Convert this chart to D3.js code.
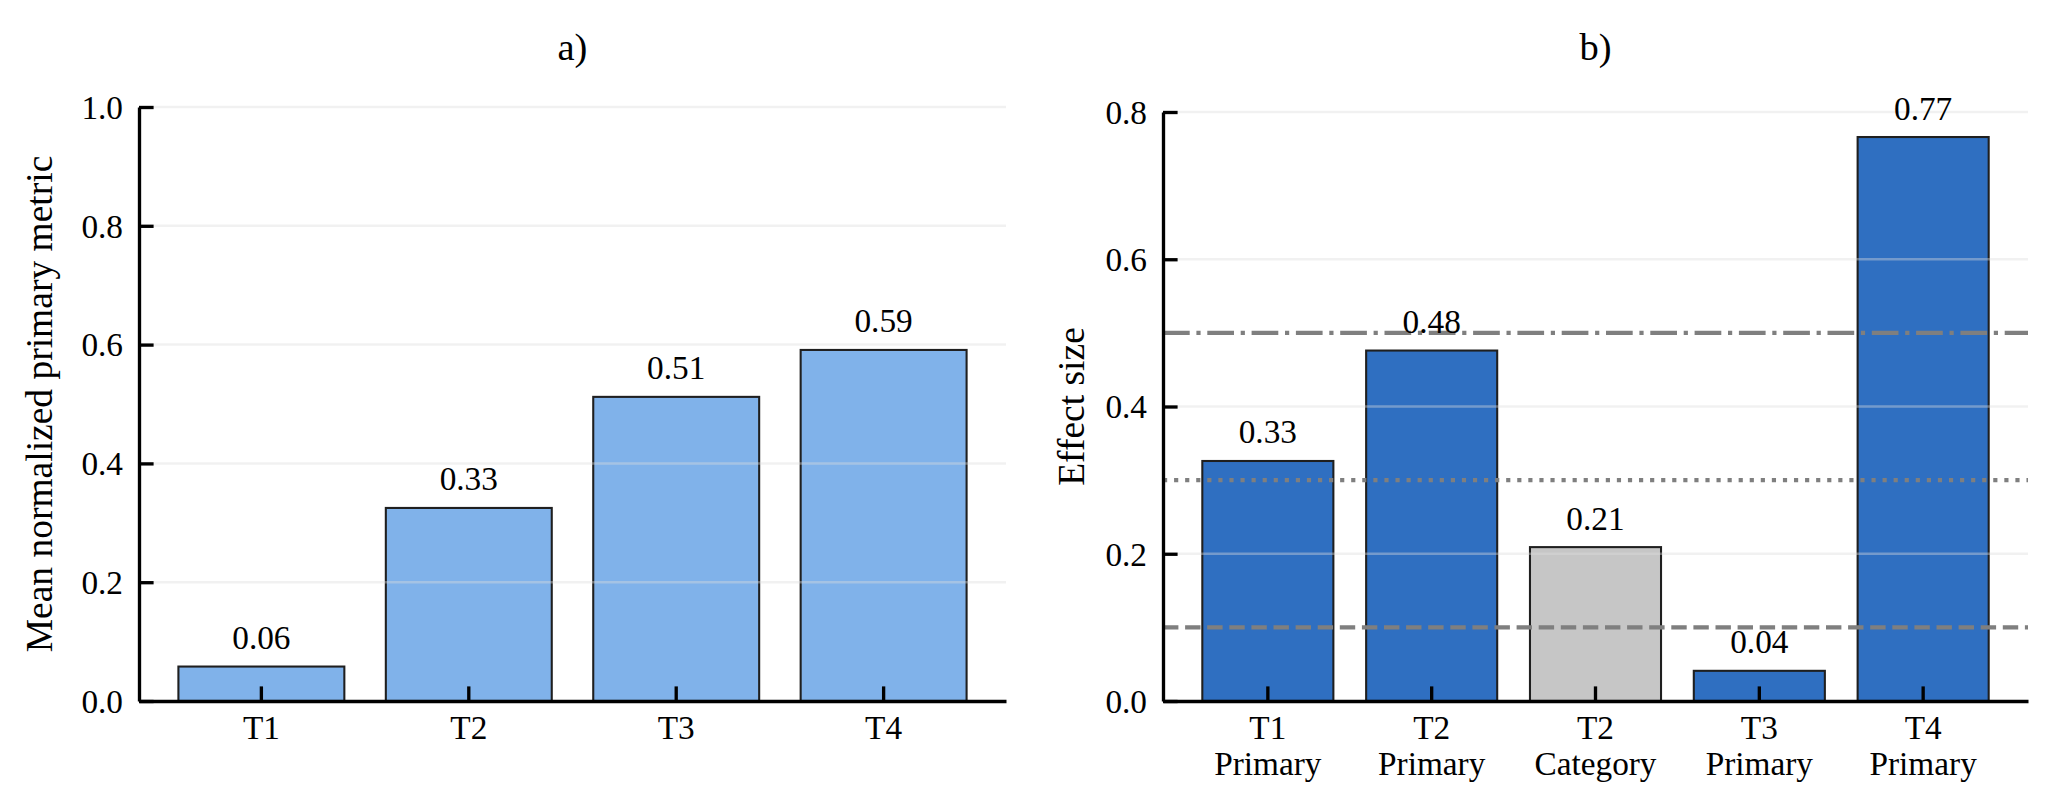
<!doctype html>
<html>
<head>
  <meta charset='utf-8'>
  <style>
    body { margin: 0; background: #fff; }
    svg text { fill: #000; }
    .axis path, .axis line { stroke: #000; stroke-width: 3.33; }
    .axis text { font-size: 33.3px; }
    .grid line { stroke: #dcdcdc; stroke-width: 2.5; stroke-opacity: 0.4; }
    .bar { stroke: #1f1f1f; stroke-width: 2.08; }
    .value { font-size: 33.3px; text-anchor: middle; }
    .title { font-size: 38.5px; text-anchor: middle; }
    .ylabel { font-size: 37.5px; text-anchor: middle; }
    .ref { stroke: #7f7f7f; stroke-width: 4.17; fill: none; }
  </style>
</head>

<body>

  <svg width='2059' height='810'></svg>
  <script src='https://d3js.org/d3.v7.min.js'></script>

  <script>
    // panel a) data
    var aCategories = ['T1', 'T2', 'T3', 'T4'];
    var aValues = [0.058, 0.325, 0.512, 0.591];
    var aLabels = ['0.06', '0.33', '0.51', '0.59'];
    var aTicks = [0, 0.2, 0.4, 0.6, 0.8, 1.0];

    // panel b) data
    var bTests = ['T1', 'T2', 'T2', 'T3', 'T4'];
    var bKinds = ['Primary', 'Primary', 'Category', 'Primary', 'Primary'];
    var bValues = [0.326, 0.476, 0.209, 0.041, 0.766];
    var bLabels = ['0.33', '0.48', '0.21', '0.04', '0.77'];
    var bTicks = [0, 0.2, 0.4, 0.6, 0.8];
    var bRefValues = [0.1, 0.3, 0.5];

    var svg = d3.select('svg');
    var serif = "'Liberation Serif', 'Times New Roman', Times, serif";

    var colorA = '#80b2ea';
    var colorB = { 'Primary': '#2f6fc1', 'Category': '#c6c6c6' };
    var refDash = ['15.4,6.7', '4.17,6.9', '26.7,6.7,4.2,6.7'];
    var tickLen = 14.6;

    function panel(opts) {
      var n = opts.values.length;
      var x = d3.scaleBand()
                .domain(d3.range(n))
                .range([opts.left, opts.right])
                .paddingInner(0.2)
                .paddingOuter(0.05 * (n - 0.2));
      var y = d3.scaleLinear()
                .domain([0, opts.ymax])
                .range([opts.bottom, opts.top]);

      var g = svg.append('g');

      g.selectAll('.bar')
       .data(opts.values)
       .enter().append('rect')
               .attr('class', 'bar')
               .attr('x', function(d, i) { return x(i); })
               .attr('width', x.bandwidth())
               .attr('y', function(d) { return y(d); })
               .attr('height', function(d) { return y(0) - y(d); })
               .attr('fill', function(d, i) { return opts.fill(i); });

      g.append('g')
       .attr('class', 'grid')
       .selectAll('line')
       .data(opts.ticks.filter(function(t) { return t > 0; }))
       .enter().append('line')
               .attr('x1', opts.left)
               .attr('x2', opts.right)
               .attr('y1', function(d) { return y(d); })
               .attr('y2', function(d) { return y(d); });

      if (opts.refs) {
        g.selectAll('.ref')
         .data(opts.refs)
         .enter().append('line')
                 .attr('class', 'ref')
                 .attr('x1', opts.left)
                 .attr('x2', opts.right)
                 .attr('y1', function(d) { return y(d); })
                 .attr('y2', function(d) { return y(d); })
                 .attr('stroke-dasharray', function(d, i) { return refDash[i]; });
      }

      var xAxis = g.append('g')
                   .attr('class', 'axis')
                   .attr('transform', 'translate(0,' + opts.bottom + ')')
                   .call(d3.axisBottom(x).tickSize(-tickLen).tickSizeOuter(0)
                           .tickFormat(function() { return ''; }));
      xAxis.attr('font-size', null);
      xAxis.selectAll('.tick text').each(function(d) {
        var t = d3.select(this).attr('y', 0).attr('dy', null);
        var lines = opts.xlabels(d);
        lines.forEach(function(s, k) {
          t.append('tspan').attr('x', 0).attr('y', 38 + k * 36).text(s);
        });
      });

      var yAxis = g.append('g')
                   .attr('class', 'axis')
                   .attr('transform', 'translate(' + opts.left + ',0)')
                   .call(d3.axisLeft(y).tickValues(opts.ticks).tickSize(-tickLen)
                           .tickSizeOuter(0).tickPadding(16).tickFormat(d3.format('.1f')));
      yAxis.attr('font-size', null);
      yAxis.selectAll('.tick text').attr('dy', '0.34em');

      g.selectAll('.value')
       .data(opts.values)
       .enter().append('text')
               .attr('class', 'value')
               .attr('x', function(d, i) { return x(i) + x.bandwidth() / 2; })
               .attr('y', function(d) { return y(d) - 17.5; })
               .text(function(d, i) { return opts.labels[i]; });

      g.append('text')
       .attr('class', 'title')
       .attr('x', (opts.left + opts.right) / 2)
       .attr('y', 60)
       .text(opts.title);

      g.append('text')
       .attr('class', 'ylabel')
       .attr('transform', 'translate(' + opts.ylabelX + ',' + (opts.top + opts.bottom) / 2 + ') rotate(-90)')
       .text(opts.ylabel);
    }

    panel({
      left: 139, right: 1006, top: 107, bottom: 701, ymax: 1.0,
      values: aValues, labels: aLabels, ticks: aTicks,
      fill: function() { return colorA; },
      xlabels: function(i) { return [aCategories[i]]; },
      title: 'a)', ylabel: 'Mean normalized primary metric', ylabelX: 52
    });

    panel({
      left: 1163, right: 2028, top: 112, bottom: 701, ymax: 0.8,
      values: bValues, labels: bLabels, ticks: bTicks, refs: bRefValues,
      fill: function(i) { return colorB[bKinds[i]]; },
      xlabels: function(i) { return [bTests[i], bKinds[i]]; },
      title: 'b)', ylabel: 'Effect size', ylabelX: 1084
    });

    // same serif face everywhere, axis groups included
    svg.selectAll('g').attr('font-family', serif);
    svg.selectAll('text').style('font-family', serif);
  </script>
</body>

</html>
